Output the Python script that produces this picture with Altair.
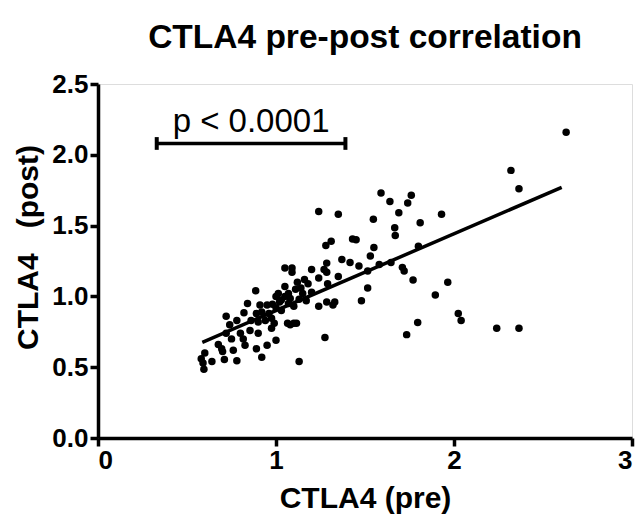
import altair as alt
import pandas as pd

# CTLA4 values
pre = [2.63, 2.32, 2.365, 2.24, 2.365,
       1.59, 1.64, 1.76, 1.74, 1.69, 1.93, 1.81, 1.667, 1.67, 1.80, 1.646, 1.71, 1.72, 1.77, 1.965,
       1.895, 2.024, 2.04, 1.796, 1.734,
       1.24, 1.35, 1.547, 1.43, 1.45, 1.31, 1.28, 1.55, 1.53, 1.37, 1.416, 1.466, 1.58, 1.285, 1.05,
       1.09, 1.09, 1.20, 1.27, 1.285, 1.35, 1.515, 1.24,
       1.29, 1.515, 1.18, 1.14, 1.11, 1.05, 1.20, 1.15, 1.08, 1.07, 1.10, 1.24, 1.285, 1.33, 1.32,
       1.48, 1.10, 1.08, 1.115, 1.275, 1.13,
       0.886, 1.013, 0.84, 0.91, 0.95, 0.98, 1.03, 0.82, 0.89, 0.92, 0.96, 0.72, 0.78, 0.86, 0.90,
       0.94, 0.975, 0.99, 1.065, 0.74, 0.854, 0.90, 0.975, 0.80, 0.72, 0.75, 0.676, 0.695, 0.70,
       0.76, 0.816, 0.826, 0.89, 0.95, 1.0, 0.92, 0.60, 0.58, 0.59, 0.595, 0.64, 0.71, 0.78,
       1.0, 1.02, 1.05, 1.07, 1.0, 1.03, 1.12, 1.16, 1.13, 1.17]
post = [2.16, 1.89, 1.76, 0.775, 0.775,
        1.73, 1.67, 1.715, 1.66, 1.59, 1.58, 1.52, 1.485, 1.43, 1.355, 1.24, 1.205, 1.18, 1.115, 1.10,
        1.01, 0.88, 0.83, 0.815, 0.73,
        1.60, 1.58, 1.545, 1.405, 1.40, 1.39, 1.36, 1.345, 1.285, 1.26, 1.24, 1.215, 1.225, 1.235, 1.20,
        1.20, 1.17, 1.19, 1.19, 1.17, 1.14, 1.18, 1.13,
        1.09, 1.06, 1.09, 1.06, 1.05, 1.07, 1.03, 1.02, 0.985, 0.95, 0.93, 0.93, 0.96, 0.96, 0.94,
        0.97, 0.81, 0.80, 0.81, 0.71, 0.54,
        1.04, 1.02, 0.95, 0.94, 0.94, 0.945, 0.975, 0.885, 0.88, 0.89, 0.88, 0.86, 0.83, 0.83, 0.82,
        0.83, 0.845, 0.81, 0.81, 0.80, 0.76, 0.74, 0.775, 0.74, 0.74, 0.70, 0.66, 0.63, 0.61,
        0.62, 0.70, 0.655, 0.63, 0.655, 0.69, 0.57, 0.60, 0.56, 0.53, 0.485, 0.54, 0.555, 0.545,
        1.0, 0.96, 1.0, 1.02, 0.92, 0.90, 1.10, 1.12, 0.98, 0.97]

# fitted line end points
fit_pre = [0.586, 2.605]
fit_post = [0.676, 1.77]

# significance bracket
bracket_pre = [0.33, 1.39]
bracket_post = 2.08
bracket_cap = 0.045
p_label = "p < 0.0001"
p_label_post = 2.16

x_ticks = [0, 1, 2, 3]
y_ticks = [0, 0.5, 1.0, 1.5, 2.0, 2.5]

FONT = "Liberation Sans"

pts = pd.DataFrame({"pre": pre, "post": post})
fit = pd.DataFrame({"pre": fit_pre, "post": fit_post})
bar = pd.DataFrame({"x1": [bracket_pre[0]], "x2": [bracket_pre[1]], "y": [bracket_post]})
caps = pd.DataFrame({"x": bracket_pre,
                     "y1": [bracket_post - bracket_cap] * 2,
                     "y2": [bracket_post + bracket_cap] * 2})
lab = pd.DataFrame({"x": [sum(bracket_pre) / 2], "y": [p_label_post], "t": [p_label]})

xs = alt.Scale(domain=[0, 3], nice=False, zero=False)
ys = alt.Scale(domain=[0, 2.5], nice=False, zero=False)

axis_common = dict(
    domainColor="black", domainWidth=3.5, tickColor="black", tickWidth=3.5, tickSize=8,
    grid=False, labelFont=FONT, labelFontSize=26, labelFontWeight="bold", labelColor="black",
    titleFont=FONT, titleFontSize=30, titleFontWeight="bold", titleColor="black",
)

x_enc = alt.X("pre:Q", scale=xs, axis=alt.Axis(
    values=x_ticks, format="d", title="CTLA4 (pre)", labelPadding=1,
    titleY=60, titleBaseline="middle", **axis_common))
y_enc = alt.Y("post:Q", scale=ys, axis=alt.Axis(
    values=y_ticks, format=".1f", title="CTLA4\u00a0\u00a0\u00a0(post)", labelPadding=2,
    titleX=-70, titleY=163, titleBaseline="middle", titleAlign="center", titleAngle=-90,
    **axis_common))

points = alt.Chart(pts).mark_circle(size=56, color="black", opacity=1).encode(x=x_enc, y=y_enc)

line = alt.Chart(fit).mark_line(color="black", strokeWidth=3.5).encode(x="pre:Q", y="post:Q")

bar_rule = alt.Chart(bar).mark_rule(color="black", strokeWidth=3.5).encode(
    x=alt.X("x1:Q", scale=xs), x2="x2:Q", y=alt.Y("y:Q", scale=ys))
cap_rule = alt.Chart(caps).mark_rule(color="black", strokeWidth=4).encode(
    x=alt.X("x:Q", scale=xs), y=alt.Y("y1:Q", scale=ys), y2="y2:Q")
text = alt.Chart(lab).mark_text(font=FONT, fontSize=33, color="black", baseline="alphabetic",
                                align="center").encode(
    x=alt.X("x:Q", scale=xs), y=alt.Y("y:Q", scale=ys), text="t:N")

chart = alt.layer(points, line, bar_rule, cap_rule, text).properties(
    width=534, height=354,
    title=alt.TitleParams("CTLA4 pre-post correlation", font=FONT, fontSize=33.5,
                          fontWeight="bold", color="black", anchor="middle", offset=16),
    autosize=alt.AutoSizeParams(type="none"),
    padding={"left": 98, "top": 84, "right": 11, "bottom": 85},
).configure_view(stroke=None).configure(background="white")

chart.save("out.html", embed_options={"renderer": "svg", "actions": False})
